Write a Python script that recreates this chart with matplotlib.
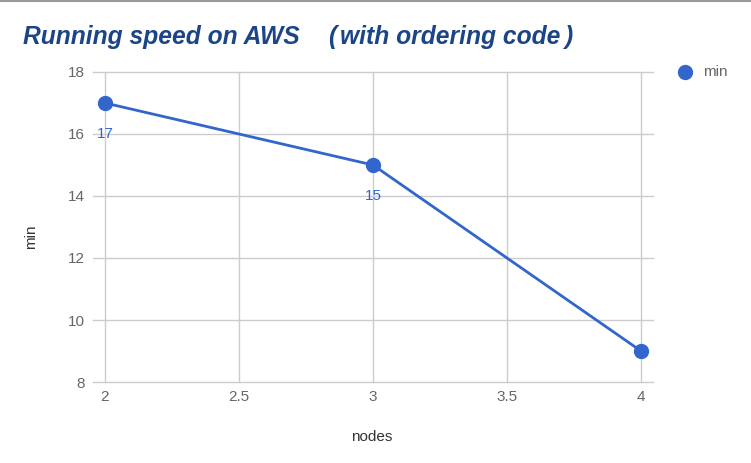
import matplotlib
matplotlib.use("Agg")
import matplotlib.pyplot as plt

nodes = [2, 3, 4]
minutes = [17, 15, 9]
labels = ["17", "15", ""]
yticks = [8, 10, 12, 14, 16, 18]
xticks = [2, 2.5, 3, 3.5, 4]
xticklabels = ["2", "2.5", "3", "3.5", "4"]
title_parts = ["Running speed on AWS", "(", "with ordering code", ")"]

plt.rcParams['font.family'] = ['Liberation Sans', 'DejaVu Sans']
W, H = 751, 463
fig = plt.figure(figsize=(W/100, H/100), dpi=100)
ax = fig.add_axes([93/W, 1-382/H, (653-93)/W, (382-72)/H])
blue = "#3366cc"
ax.plot(nodes, minutes, color=blue, lw=2, marker='o', ms=10, zorder=3, clip_on=False)
for x, y, t in zip(nodes, minutes, labels):
    if t:
        ax.annotate(t, (x, y), xytext=(0, -22), textcoords='offset points',
                    ha='center', va='center', color=blue, fontsize=11)
ax.set_xlim(2 - 12/268, 4 + 12/268)
ax.set_ylim(8, 18)
ax.set_yticks(yticks)
ax.set_xticks(xticks)
ax.set_xticklabels(xticklabels)
for s in ax.spines.values():
    s.set_visible(False)
ax.grid(True, color="#cccccc", lw=1)
for gl in ax.get_ygridlines() + ax.get_xgridlines():
    gl.set_clip_on(False)
ax.set_axisbelow(True)
ax.tick_params(length=0, labelsize=11, labelcolor="#666666")
ax.tick_params(axis='y', pad=6)
ax.tick_params(axis='x', pad=6)
fig.text(372/W, 1-437/H, "nodes", ha='center', va='center', fontsize=11, color="#333333")
fig.text(31/W, 1-237/H, "min", ha='center', va='center', fontsize=11, color="#333333", rotation=90)
tkw = dict(ha='left', va='baseline', fontsize=17.7, fontweight='bold', fontstyle='italic', color="#1c4587")
for part, px in zip(title_parts, [23, 328, 340, 564]):
    fig.text(px/W, 1-44/H, part, **tkw)
# legend
fig.add_artist(plt.Line2D([685/W], [1-72/H], marker='o', ms=10, color=blue, transform=fig.transFigure))
fig.text(703/W, 1-72/H, "min", ha='left', va='center', fontsize=11, color="#666666")
# top border
fig.add_artist(plt.Line2D([0, 1], [1-0.5/H, 1-0.5/H], color="#999999", lw=1.5, transform=fig.transFigure))
fig.savefig("out.png", dpi=100)
